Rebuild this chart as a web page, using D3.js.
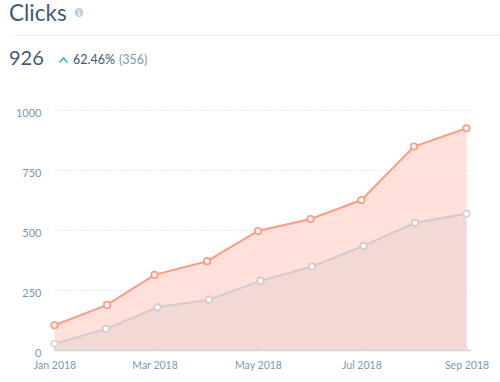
<!DOCTYPE html>
<html>
<head>
<meta charset="utf-8">
<script src="https://cdn.jsdelivr.net/npm/d3@7"></script>
<style>
  body { margin: 0; background: #fff; }
  svg { display: block; font-family: Lato, sans-serif; }
  .domain { stroke: #cbd6e2; stroke-width: 1.5; }
</style>
</head>
<body>
<script>
const months = ['2018-01-01', '2018-02-01', '2018-03-01', '2018-04-01', '2018-05-01', '2018-06-01', '2018-07-01', '2018-08-01', '2018-09-01']
const current = [105, 190, 315, 372, 498, 548, 627, 850, 926]
const previous = [28, 90, 180, 212, 290, 350, 436, 532, 570]
const yTicks = [0, 250, 500, 750, 1000]
const xTicks = ['2018-01-01', '2018-03-01', '2018-05-01', '2018-07-01', '2018-09-01']

const dim = {width: 500, height: 382, margin: {t: 110.5, r: 33.5, b: 31.5, l: 54.5}}
const parse = d3.utcParse('%Y-%m-%d')

const SVG = d3.select('body').append('svg')
  .attr('width', dim.width)
  .attr('height', dim.height)

// current period sits on real dates, the comparison period is evenly spaced
const X_TIME = d3.scaleUtc()
  .domain(d3.extent(months, parse))
  .range([dim.margin.l, dim.width - dim.margin.r])

const X_EVEN = d3.scalePoint()
  .domain(months)
  .range([dim.margin.l, dim.width - dim.margin.r])

const Y = d3.scaleLinear()
  .domain([0, 1000])
  .range([dim.height - dim.margin.b, dim.margin.t])

const xCurrent = (d, i) => X_TIME(parse(months[i]))
const xPrevious = (d, i) => X_EVEN(months[i])

// header
SVG.append('text').attr('x', 9).attr('y', 21).attr('font-size', 22.5).attr('fill', '#425b76').text('Clicks')
SVG.append('circle').attr('cx', 79).attr('cy', 12.5).attr('r', 4.5).attr('fill', '#c3d0dd')
SVG.append('text').attr('x', 79).attr('y', 15.5).attr('font-size', 8).attr('font-weight', 700)
  .attr('text-anchor', 'middle').attr('fill', '#fff').text('i')
SVG.append('line').attr('x1', 9).attr('x2', 500).attr('y1', 35.5).attr('y2', 35.5).attr('stroke', '#eef1f5')

SVG.append('text').attr('x', 9).attr('y', 65).attr('font-size', 20).attr('fill', '#425b76').text('926')
SVG.append('path').attr('d', 'M59.5 62.5 L63.5 58 L67.5 62.5').attr('fill', 'none')
  .attr('stroke', '#2fc1ad').attr('stroke-width', 1.5)
SVG.append('text').attr('x', 73).attr('y', 64).attr('font-size', 12.5).attr('fill', '#425b76').text('62.46%')
SVG.append('text').attr('x', 119).attr('y', 64).attr('font-size', 12.5).attr('fill', '#7c98b6').text('(356)')

// y axis
const yAxis = SVG.append('g')
  .attr('transform', `translate(${dim.margin.l}, 2)`)
  .call(d3.axisLeft(Y).tickValues(yTicks).tickFormat(d3.format('d')).tickSize(0).tickPadding(13))
yAxis.select('.domain').remove()
yAxis.selectAll('text').attr('font-size', 11).attr('fill', '#7c98b6').attr('font-family', 'Lato, sans-serif')

const areaFor = x => d3.area().x(x).y0(Y(0)).y1(d => Y(d))
const lineFor = x => d3.line().x(x).y(d => Y(d))

// fills are opaque so the overlap keeps the pale tone of the original
SVG.append('path').attr('d', areaFor(xCurrent)(current)).attr('fill', '#ffe0da')
SVG.append('path').attr('d', areaFor(xPrevious)(previous)).attr('fill', '#f2d9d5')

// grid sits over the fills, it shows faintly through them
SVG.append('g').selectAll('line')
  .data(yTicks.slice(1))
  .join('line')
  .attr('x1', dim.margin.l)
  .attr('x2', 471)
  .attr('y1', d => Y(d))
  .attr('y2', d => Y(d))
  .attr('stroke', '#dfe3ea')
  .attr('stroke-opacity', 0.8)
  .attr('stroke-dasharray', '3 2')

SVG.append('path').attr('d', lineFor(xCurrent)(current)).attr('fill', 'none').attr('stroke', '#ff9c85').attr('stroke-width', 2)
SVG.append('path').attr('d', lineFor(xPrevious)(previous)).attr('fill', 'none').attr('stroke', '#d6c8cc').attr('stroke-width', 2)

const drawDots = (values, x, stroke) => {
  SVG.append('g').selectAll('circle')
    .data(values)
    .join('circle')
    .attr('cx', x)
    .attr('cy', d => Y(d))
    .attr('r', 3.2)
    .attr('fill', '#fff')
    .attr('stroke', stroke)
    .attr('stroke-width', 1.8)
}

// end dots of the comparison line are a bit bluer
drawDots(previous, xPrevious, (d, i) => (i === 0 || i === previous.length - 1) ? '#cfd8e4' : '#d6c8cc')
drawDots(current, xCurrent, '#ff9c85')

// x axis
const xAxis = SVG.append('g')
  .attr('transform', `translate(0, ${Y(0)})`)
  .call(d3.axisBottom(X_TIME).tickValues(xTicks.map(parse)).tickFormat(d3.utcFormat('%b %Y')).tickSize(-5).tickPadding(11).tickSizeOuter(0))
xAxis.select('.domain').attr('d', `M${dim.margin.l},0H471`)
xAxis.selectAll('.tick line').attr('stroke', '#cbd6e2')
xAxis.selectAll('text').attr('font-size', 10.5).attr('fill', '#7c98b6').attr('font-family', 'Lato, sans-serif')
</script>
</body>
</html>
